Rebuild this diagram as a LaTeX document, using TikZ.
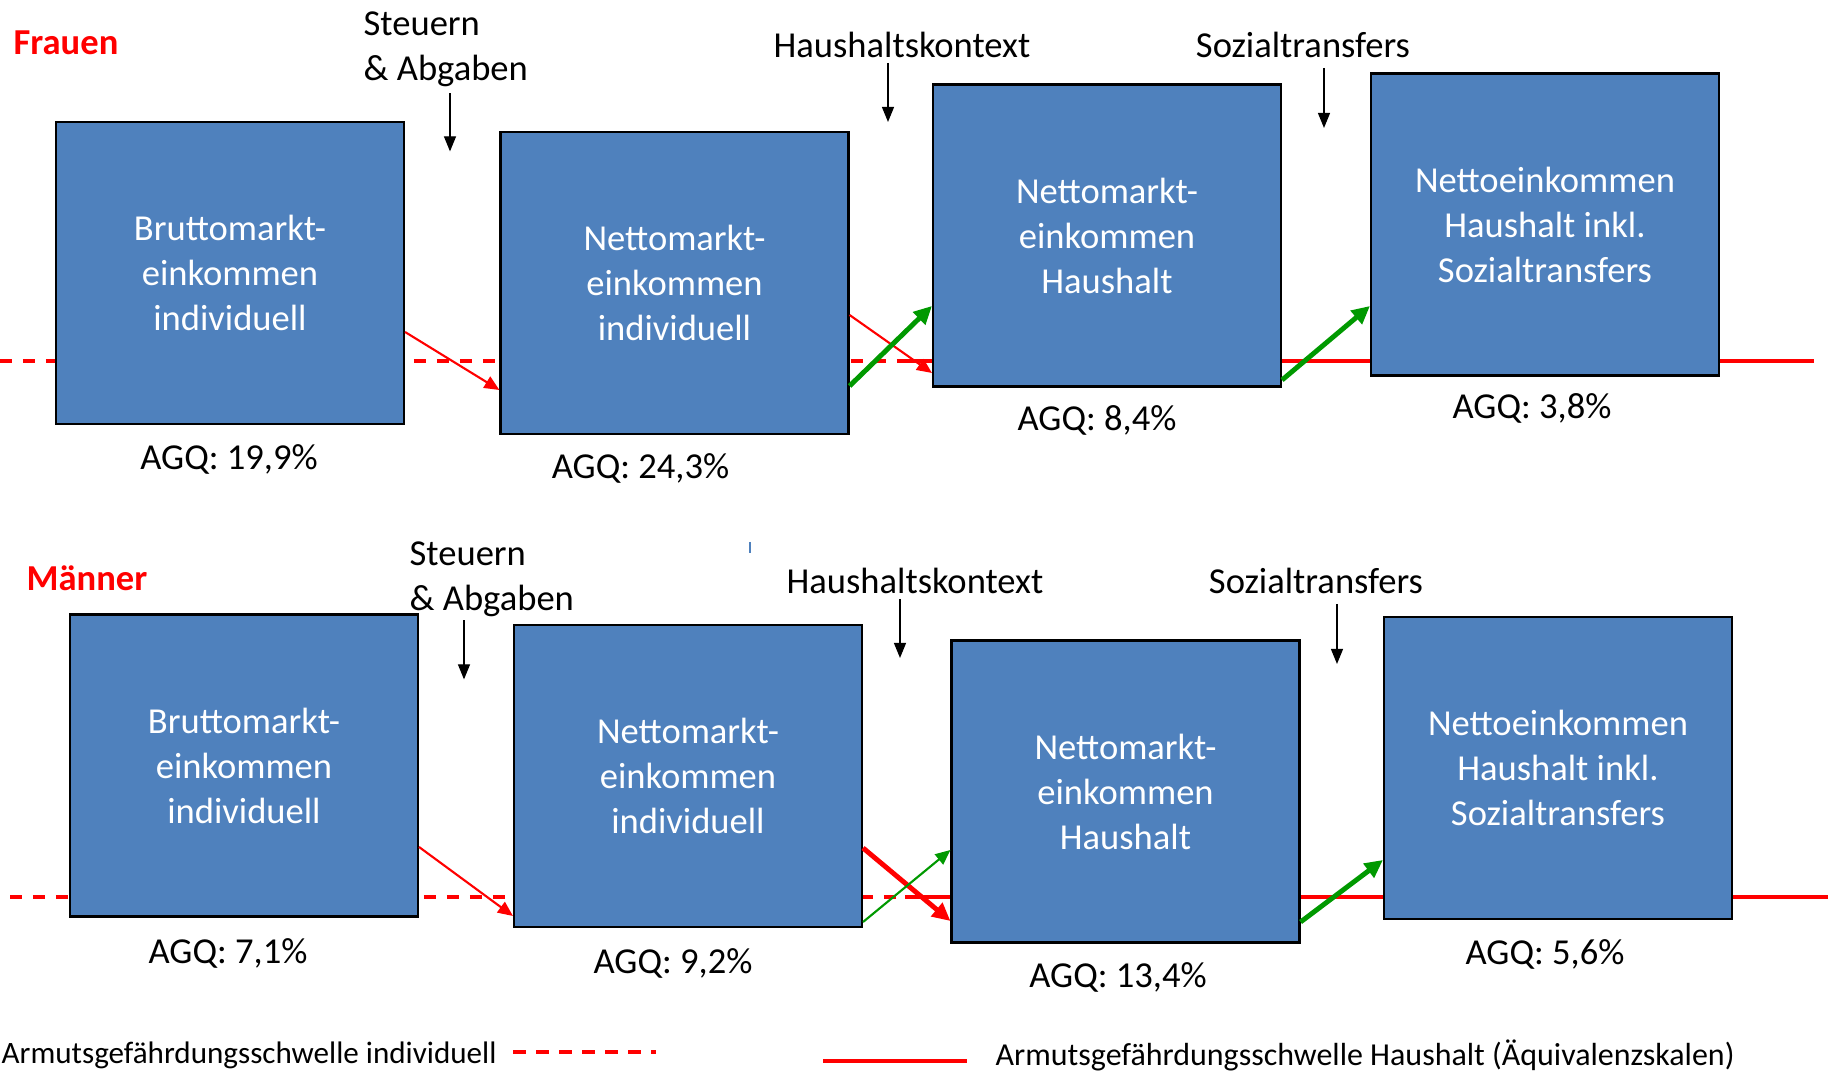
\documentclass[tikz,border=0pt]{standalone}
\usepackage{fontspec}
\setmainfont{Carlito}
\usepackage{tikz}
\usetikzlibrary{arrows.meta, positioning, calc}
\definecolor{myred}{RGB}{255,0,0}
\definecolor{mygreen}{RGB}{0,153,0}
\definecolor{myblue}{RGB}{79,129,189}
\definecolor{mydark}{RGB}{0,0,0}
\tikzset{
  box/.style={rectangle, draw=mydark, fill=myblue, text=white,
    minimum width=34.8mm, minimum height=30.2mm, inner sep=0pt,
    align=center, font=\fontsize{10.4}{12.8}\selectfont, line width=0.6pt},
  lab/.style={inner sep=0pt, font=\fontsize{10.4}{12.8}\selectfont},
  agq/.style={lab, anchor=base},
  legend/.style={inner sep=0pt, font=\fontsize{9.1}{11}\selectfont},
  pfeil/.style={-{Triangle[length=1.5mm, width=1.2mm]}, line width=0.34pt, color=mydark},
  redarrow/.style={-{Triangle[length=1.5mm, width=1.3mm]}, line width=0.6pt, color=myred},
  redthick/.style={-{Triangle[length=1.8mm, width=1.7mm]}, line width=1.4pt, color=myred},
  greenarrow/.style={-{Triangle[length=1.5mm, width=1.3mm]}, line width=0.6pt, color=mygreen},
  greenthick/.style={-{Triangle[length=1.8mm, width=1.7mm]}, line width=1.4pt, color=mygreen},
  schwelleind/.style={myred, line width=1pt, dash pattern=on 1.25mm off 1.05mm},
  schwellehh/.style={myred, line width=1pt}
}
\begin{document}
\begin{tikzpicture}[x=0.1mm, y=-0.1mm]
  \useasboundingbox (0,0) rectangle (1836,1074);

  % Schwellen (hinter den Kaesten)
  \draw[schwelleind] (0,361) -- (903,361);
  \draw[schwellehh] (903,361) -- (1814,361);
  \draw[schwelleind] (10,897) -- (905,897);
  \draw[schwellehh] (905,897) -- (1828,897);

  % Frauen
  \node[lab, anchor=base west, text=myred, font=\fontsize{10.4}{12.8}\selectfont\bfseries] (frau) at (13,55) {Frauen};
  \node[box] (f1) at (230,273) {Bruttomarkt-\\einkommen\\individuell};
  \node[box] (f2) at (674.5,283) {Nettomarkt-\\einkommen\\individuell};
  \node[box] (f3) at (1107,235.5) {Nettomarkt-\\einkommen\\Haushalt};
  \node[box] (f4) at (1545,224.5) {Nettoeinkommen\\Haushalt inkl.\\Sozialtransfers};

  \node[agq] (f1q) at ($(f1.south)+(-1,44)$) {AGQ: 19,9\%};
  \node[agq] (f2q) at ($(f2.south)+(-34,43)$) {AGQ: 24,3\%};
  \node[agq] (f3q) at ($(f3.south)+(-10,43)$) {AGQ: 8,4\%};
  \node[agq] (f4q) at ($(f4.south)+(-13,42)$) {AGQ: 3,8\%};

  \node[lab, anchor=north west, align=left] (st1) at (363,11) {Steuern\\\& Abgaben};
  \node[lab, anchor=base] (hk1) at (902,58) {Haushaltskontext};
  \node[lab, anchor=base] (so1) at (1303,58) {Sozialtransfers};
  \draw[pfeil] ($(st1.south west)+(87,6)$) -- ++(0,58);
  \draw[pfeil] ($(hk1.south)+(-14,4)$) -- ++(0,59);
  \draw[pfeil] ($(so1.south)+(21,9)$) -- ++(0,60);

  \draw[redarrow] ($(f1.east)+(0,59)$) -- ($(f2.west)+(0,107)$);
  \draw[redarrow] ($(f2.east)+(0,32)$) -- ($(f3.west)+(0,137.5)$);
  \draw[greenthick] ($(f2.east)+(0,103)$) -- ($(f3.west)+(0,70.5)$);
  \draw[greenthick] ($(f3.east)+(0,144.5)$) -- ($(f4.west)+(0,81.5)$);

  % Maenner
  \node[lab, anchor=base west, text=myred, font=\fontsize{10.4}{12.8}\selectfont\bfseries] (mann) at (26,591) {Männer};
  \node[box] (m1) at (244,765.5) {Bruttomarkt-\\einkommen\\individuell};
  \node[box] (m2) at (688,776) {Nettomarkt-\\einkommen\\individuell};
  \node[box] (m3) at (1125.5,791.5) {Nettomarkt-\\einkommen\\Haushalt};
  \node[box] (m4) at (1558,768) {Nettoeinkommen\\Haushalt inkl.\\Sozialtransfers};

  \node[agq] (m1q) at ($(m1.south)+(-16,46)$) {AGQ: 7,1\%};
  \node[agq] (m2q) at ($(m2.south)+(-15,45)$) {AGQ: 9,2\%};
  \node[agq] (m3q) at ($(m3.south)+(-7.5,44)$) {AGQ: 13,4\%};
  \node[agq] (m4q) at ($(m4.south)+(-13,44)$) {AGQ: 5,6\%};

  \node[lab, anchor=north west, align=left] (st2) at (409,541) {Steuern\\\& Abgaben};
  \node[lab, anchor=base] (hk2) at (915,594) {Haushaltskontext};
  \node[lab, anchor=base] (so2) at (1316,594) {Sozialtransfers};
  \draw[pfeil] ($(st2.south west)+(55,3)$) -- ++(0,59);
  \draw[pfeil] ($(hk2.south)+(-15,4)$) -- ++(0,59);
  \draw[pfeil] ($(so2.south)+(21,9)$) -- ++(0,60);

  \draw[redarrow] ($(m1.east)+(0,81.5)$) -- ($(m2.west)+(0,140)$);
  \draw[redthick] ($(m2.east)+(0,72)$) -- ($(m3.west)+(0,129.5)$);
  \draw[greenarrow] ($(m2.east)+(0,146)$) -- ($(m3.west)+(0,58.5)$);
  \draw[greenthick] ($(m3.east)+(0,130.5)$) -- ($(m4.west)+(0,92)$);

  \draw[myblue, line width=0.45pt] (750,542) -- (750,553);

  % Legende
  \node[legend, anchor=base west, font=\fontsize{8.85}{11}\selectfont] (lg1) at (1,1064) {Armutsgefährdungsschwelle individuell};
  \draw[schwelleind] (513,1052) -- (656,1052);
  \draw[schwellehh] (823,1061) -- (967,1061);
  \node[legend, anchor=base west] (lg2) at (995,1066) {Armutsgefährdungsschwelle Haushalt (Äquivalenzskalen)};
\end{tikzpicture}
\end{document}
